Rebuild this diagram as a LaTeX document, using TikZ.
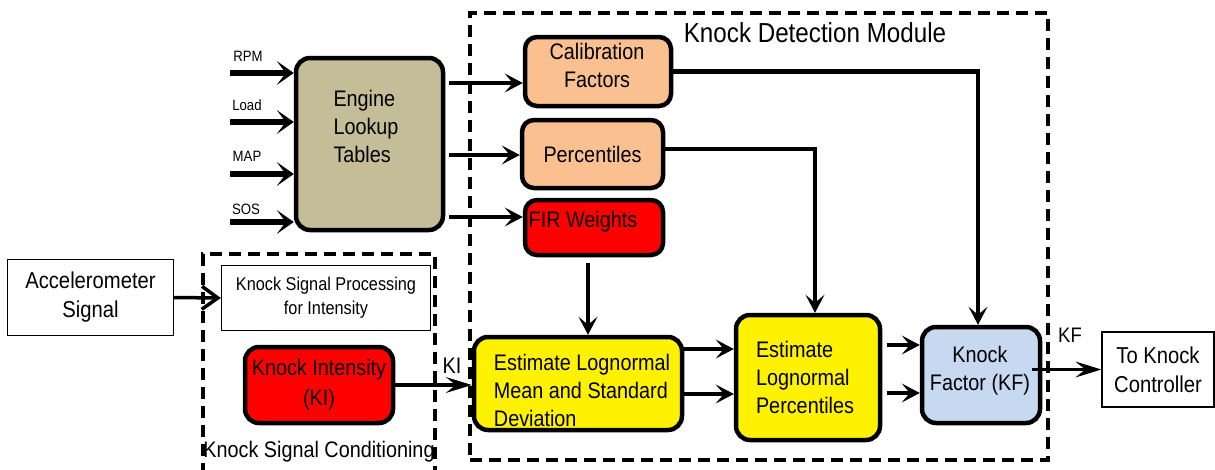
\documentclass[tikz,border=0pt]{standalone}
\usepackage{fontspec}
\setmainfont{Liberation Sans}[FakeStretch=0.88]
\usetikzlibrary{arrows.meta}
\definecolor{tanfill}{HTML}{C4BD97}
\definecolor{peach}{HTML}{FAC090}
\definecolor{kfblue}{HTML}{C6D9F1}
\tikzset{
  txt/.style={font=\fontsize{22.5}{28}\selectfont, inner sep=0pt},
  smalltxt/.style={font=\fontsize{15}{16}\selectfont, inner sep=0pt},
  block/.style={draw=black, line width=4.5pt, rounded corners=14pt, inner sep=0pt,
    font=\fontsize{22.5}{28}\selectfont, align=center},
  plainbox/.style={draw=black, line width=1.3pt, inner sep=0pt,
    font=\fontsize{23}{29}\selectfont, align=center},
  dashbox/.style={draw=black, line width=3.3pt, dash pattern=on 12pt off 7pt},
  inarrow/.style={-{Stealth[length=17pt,width=24pt,inset=9pt,line width=1pt]}, line width=6pt},
  conn/.style={-{Stealth[length=18pt,width=19pt,inset=8pt,line width=1pt]}, line width=4.5pt},
  link/.style={line width=4.5pt},
  longarr/.style={-{Stealth[length=26pt,width=16pt,inset=10pt,line width=1pt]}, line width=3.5pt},
  openarr/.style={-{Straight Barb[length=16pt,width=23pt,line width=3.5pt]}, line width=3.5pt},
}
\begin{document}
\begin{tikzpicture}[x=1pt,y=-1pt]
\useasboundingbox (0,0) rectangle (1215,469);

% module frames
\node[dashbox, minimum width=578pt, minimum height=447pt, inner sep=0pt] (kdm) at (759,236.5) {};
\node[txt, font=\fontsize{27.5}{30}\selectfont] (kdmlbl) at (815,33) {Knock Detection Module};
\draw[dashbox] (203,475) |- (435,254) -- (435,475);
\node[txt, font=\fontsize{22.5}{26}\selectfont] (ksclbl) at (319,452) {Knock Signal Conditioning};

% engine lookup tables and inputs
\node[block, fill=tanfill, minimum width=147pt, minimum height=172pt] (engine) at (369.5,144) {};
\node[txt, align=left] (enginetxt) at (366,126) {Engine\\Lookup\\Tables};

\coordinate (rpmin) at (230,73);
\coordinate (loadin) at (230,122);
\coordinate (mapin) at (230,174);
\coordinate (sosin) at (230,222);
\node[smalltxt] (rpmlbl) at (248,56) {RPM};
\node[smalltxt] (loadlbl) at (247,105) {Load};
\node[smalltxt] (maplbl) at (247,156) {MAP};
\node[smalltxt] (soslbl) at (246,209) {SOS};
\draw[inarrow] (rpmin) -- (rpmin -| engine.west);
\draw[inarrow] (loadin) -- (loadin -| engine.west);
\draw[inarrow] (mapin) -- (mapin -| engine.west);
\draw[inarrow] (sosin) -- (sosin -| engine.west);

% table outputs
\node[block, fill=peach, minimum width=146pt, minimum height=69pt, rounded corners=12pt] (cal) at (598,71.5) {};
\node[txt, align=center] (caltxt) at (597,65) {Calibration\\Factors};
\node[block, fill=peach, minimum width=141pt, minimum height=68pt, rounded corners=12pt] (perc) at (592.5,154) {Percentiles};
\node[block, fill=red, minimum width=138pt, minimum height=55pt, rounded corners=12pt] (fir) at (594,227.5) {};
\node[txt] (firtxt) at (583,222) {FIR Weights};

\coordinate (e1) at (449,83);
\coordinate (e2) at (449,155);
\coordinate (e3) at (449,217);
\draw[conn] (e1) -- (e1 -| cal.west);
\draw[conn] (e2) -- (e2 -| perc.west);
\draw[conn] (e3) -- (e3 -| fir.west);

% signal conditioning
\node[plainbox, minimum width=166pt, minimum height=76pt] (acc) at (90.5,297.5) {Accelerometer\\Signal};
\node[plainbox, minimum width=209pt, minimum height=65pt, font=\fontsize{18.5}{24}\selectfont] (ksp) at (326,298) {Knock Signal Processing\\for Intensity};
\draw[openarr] (acc.east) -- (ksp.west);
\node[block, fill=red, minimum width=148pt, minimum height=76pt, font=\fontsize{22.5}{30}\selectfont] (ki) at (319,385) {Knock Intensity\\(KI)};

% estimation chain
\node[block, fill=yellow, minimum width=208pt, minimum height=93pt] (mean) at (578,383.5) {};
\node[txt, align=left] (meantxt) at (582,390) {Estimate Lognormal\\Mean and Standard\\Deviation};
\node[block, fill=yellow, minimum width=144pt, minimum height=125pt] (lp) at (808,377.5) {};
\node[txt, align=left] (lptxt) at (805,377) {Estimate\\Lognormal\\Percentiles};
\node[block, fill=kfblue, minimum width=118pt, minimum height=96pt] (kf) at (981,375) {};
\node[txt, align=center] (kftxt) at (980,371) {Knock\\Factor (KF)};
\node[plainbox, minimum width=112pt, minimum height=75pt] (ctrl) at (1158,369.5) {To Knock\\Controller};

\draw[longarr] (ki.east) -- (ki.east -| mean.west);
\node[txt] (kilbl) at (452,366) {KI};

\coordinate (firx) at (588,0);
\draw[conn] ([yshift=-6pt]firx |- fir.south) -- (firx |- mean.north);

\coordinate (m1) at (0,349);
\coordinate (m2) at (0,394);
\draw[conn] (m1 -| mean.east) -- (m1 -| lp.west);
\draw[conn] (m2 -| mean.east) -- (m2 -| lp.west);

\coordinate (p1) at (0,345);
\coordinate (p2) at (0,393);
\draw[conn] ([xshift=5pt]p1 -| lp.east) -- (p1 -| kf.west);
\draw[conn] ([xshift=5pt]p2 -| lp.east) -- (p2 -| kf.west);

\coordinate (calx) at (978,0);
\draw[link] (cal.east) -- ([xshift=2.25pt]calx |- cal.east);
\draw[conn] (calx |- cal.east) -- (calx |- kf.north);

\coordinate (percx) at (815,0);
\coordinate (percy) at (0,149);
\draw[link] (percy -| perc.east) -- ([xshift=2.25pt]percy -| percx);
\draw[conn] (percy -| percx) -- (percx |- lp.north);

\draw[longarr] ([xshift=-10pt]ctrl.west -| kf.east) -- (ctrl.west);
\node[txt, font=\fontsize{21}{24}\selectfont] (kflbl) at (1070,335) {KF};
\end{tikzpicture}
\end{document}
